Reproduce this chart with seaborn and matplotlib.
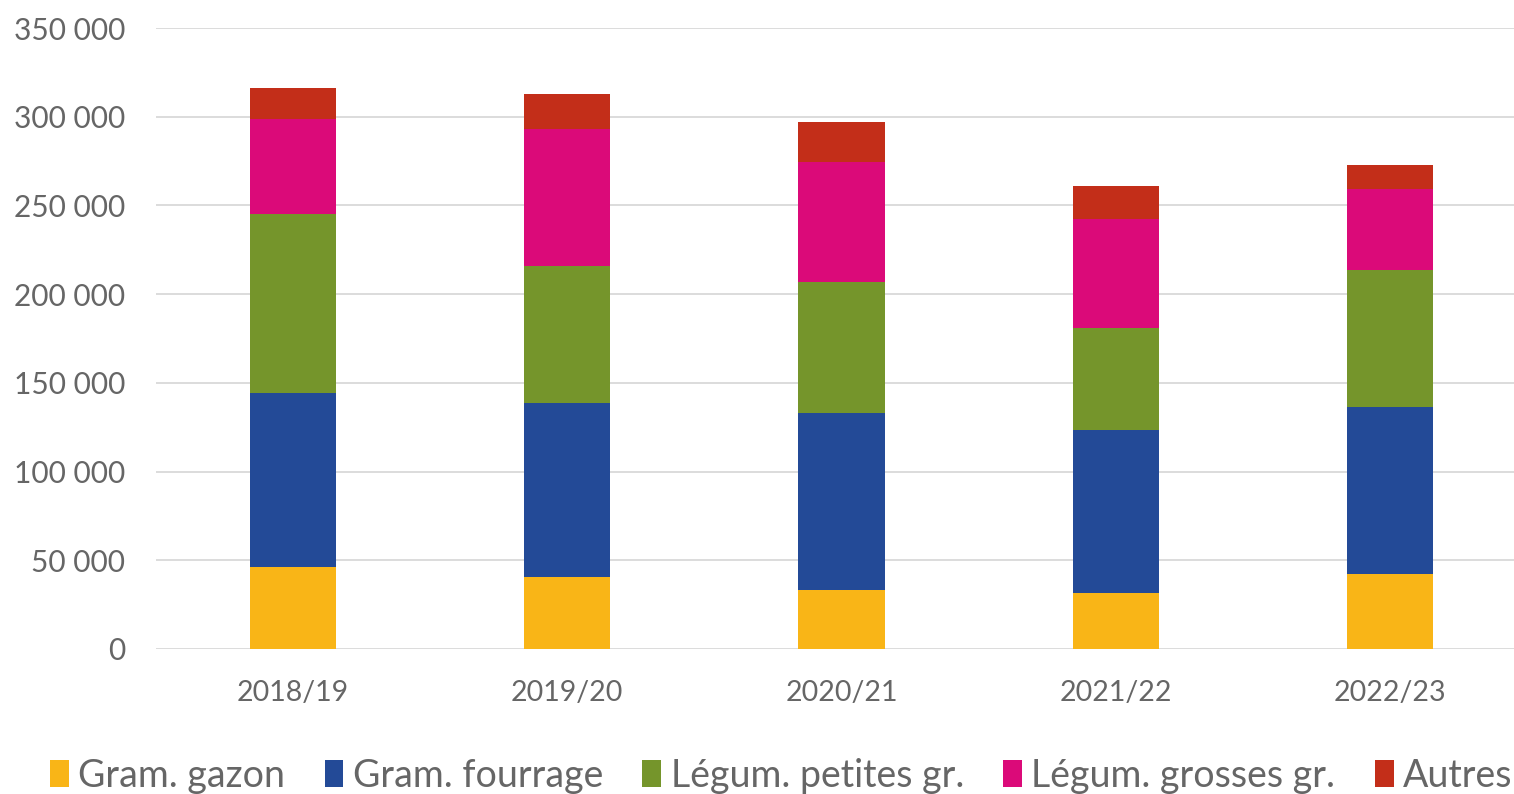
import matplotlib
matplotlib.use("Agg")
import matplotlib.pyplot as plt
import seaborn as sns
import numpy as np
from matplotlib.patches import Patch
from matplotlib.ticker import FuncFormatter

categories = ["2018/19", "2019/20", "2020/21", "2021/22", "2022/23"]
series_names = ["Gram. gazon", "Gram. fourrage", "Légum. petites gr.", "Légum. grosses gr.", "Autres"]
gram_gazon = [46200, 40600, 33300, 31600, 42300]
gram_fourrage = [98100, 98100, 99700, 91800, 94100]
legum_petites = [100900, 77200, 73900, 57600, 77200]
legum_grosses = [53500, 77200, 67600, 61400, 45700]
autres = [17500, 19800, 22600, 18600, 13500]
colors = ["#F9B517", "#234A97", "#75952B", "#DB0A79", "#C32E19"]

sns.set_theme(style="white")
plt.rcParams['font.family'] = ['Lato', 'DejaVu Sans']

W, H = 1514, 794
fig = plt.figure(figsize=(W / 100, H / 100), dpi=100)
ax_left, ax_right, ax_top, ax_bottom = 156, 1527, 28, 649
ax = fig.add_axes([ax_left / W, 1 - ax_bottom / H, (ax_right - ax_left) / W, (ax_bottom - ax_top) / H])

series = [gram_gazon, gram_fourrage, legum_petites, legum_grosses, autres]
bottom = np.zeros(len(categories))
for name, vals, c in zip(series_names, series, colors):
    sns.barplot(x=categories, y=vals, bottom=bottom, color=c, width=0.314,
                ax=ax, saturation=1, edgecolor="none", linewidth=0, zorder=3)
    bottom = bottom + np.array(vals)

ax.set_ylim(0, 350000)
ax.set_xlim(-0.5, 4.5)
ax.set_yticks(np.arange(0, 350001, 50000))
ax.yaxis.set_major_formatter(FuncFormatter(lambda v, p: f"{int(v):,}".replace(",", " ")))
ax.grid(axis="y", color="#D9D9D9", linewidth=1.3, zorder=0)
ax.grid(axis="x", visible=False)
for s in ax.spines.values():
    s.set_visible(False)
ax.tick_params(axis="y", labelsize=21.5, labelcolor="#666666", length=0, pad=22)
ax.tick_params(axis="x", labelsize=20.5, labelcolor="#666666", length=0, pad=22)
ax.set_xlabel("")
ax.set_ylabel("")

handles = [Patch(facecolor=c, edgecolor="none") for c in colors]
fig.legend(handles, series_names, loc="lower center", bbox_to_anchor=(0.516, -0.042),
           ncol=5, frameon=False, fontsize=27, labelcolor="#666666",
           handlelength=0.5, handleheight=0.7, handletextpad=0.25, columnspacing=1.05)

fig.savefig("out.png", dpi=100)
